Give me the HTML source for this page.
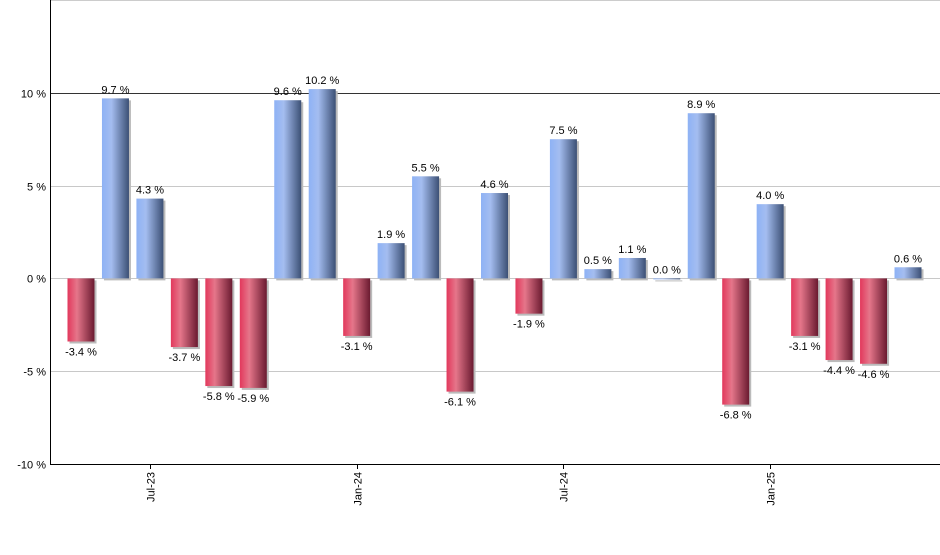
<!DOCTYPE html>
<html><head><meta charset="utf-8"><style>
body{margin:0;background:#fff;font-family:"Liberation Sans",sans-serif}
</style></head><body>
<svg id="c" width="940" height="550" xmlns="http://www.w3.org/2000/svg">
<defs>
<linearGradient id="gb" x1="0" x2="1"><stop offset="0" stop-color="#8eb2f5"/><stop offset="0.35" stop-color="#a4bdf0"/><stop offset="1" stop-color="#3c5075"/></linearGradient>
<linearGradient id="gr" x1="0" x2="1"><stop offset="0" stop-color="#e2385c"/><stop offset="0.35" stop-color="#e5768a"/><stop offset="1" stop-color="#6a1a30"/></linearGradient>
</defs>
</svg>
<script>
const months=["May-23","Jun-23","Jul-23","Aug-23","Sep-23","Oct-23","Nov-23","Dec-23","Jan-24","Feb-24","Mar-24","Apr-24","May-24","Jun-24","Jul-24","Aug-24","Sep-24","Oct-24","Nov-24","Dec-24","Jan-25","Feb-25","Mar-25","Apr-25","May-25"];
const values=[-3.4,9.7,4.3,-3.7,-5.8,-5.9,9.6,10.2,-3.1,1.9,5.5,-6.1,4.6,-1.9,7.5,0.5,1.1,0.0,8.9,-6.8,4.0,-3.1,-4.4,-4.6,0.6];
const yTicks=[-10,-5,0,5,10];
const xTickLabels=["Jul-23","Jan-24","Jul-24","Jan-25"];
const svg=document.getElementById('c');const NS="http://www.w3.org/2000/svg";
const L=50,R=940,T=0,B=464,ymin=-10,ymax=15;
const y=v=>B-(v-ymin)/(ymax-ymin)*(B-T);
const step=(908-81)/24;
const x=i=>81+i*step;
function el(t,a,p){const e=document.createElementNS(NS,t);for(const k in a)e.setAttribute(k,a[k]);(p||svg).appendChild(e);return e;}
let e=el('line',{x1:L,x2:R,y1:0.5,y2:0.5,stroke:'#ccc'});

yTicks.forEach(v=>{
 const yy=Math.round(y(v))+0.5;
 let g=el('line',{x1:L,x2:R,y1:yy,y2:yy,stroke:v===10?'#333':'#c8c8c8'});
 
 let t=el('text',{x:46,y:yy+4,'text-anchor':'end','font-size':11,fill:'#000'});t.textContent=v+' %';
 
});
values.forEach((v,i)=>{
 const cx=x(i),w=27,y0=y(0),y1=y(v);
 const top=Math.min(y0,y1),h=Math.max(Math.abs(y1-y0),1);
 let s=el('rect',{x:cx-w/2+2,y:top+2,width:w,height:h,fill:'#bbb'});
 
 let b=el('rect',{x:cx-w/2,y:top,width:w,height:h,fill:v>=0?'url(#gb)':'url(#gr)'});
 
 let t=el('text',{x:cx,y:v>=0?top-5:top+h+14,'text-anchor':'middle','font-size':11,fill:'#000'});
 t.textContent=v.toFixed(1)+' %';
 
});
e=el('line',{x1:L+0.5,x2:L+0.5,y1:0,y2:B,stroke:'#000'});

e=el('line',{x1:L,x2:R,y1:B+0.5,y2:B+0.5,stroke:'#000'});

xTickLabels.forEach(m=>{
 const i=months.indexOf(m),cx=Math.round(x(i))+0.5;
 let k=el('line',{x1:cx,x2:cx,y1:B,y2:B+5,stroke:'#000'});
 
 let t=el('text',{x:0,y:0,'text-anchor':'end','font-size':11,fill:'#000',transform:`translate(${cx+4},${B+8}) rotate(-90)`});
 t.textContent=m;
 
});
</script>
</body></html>
